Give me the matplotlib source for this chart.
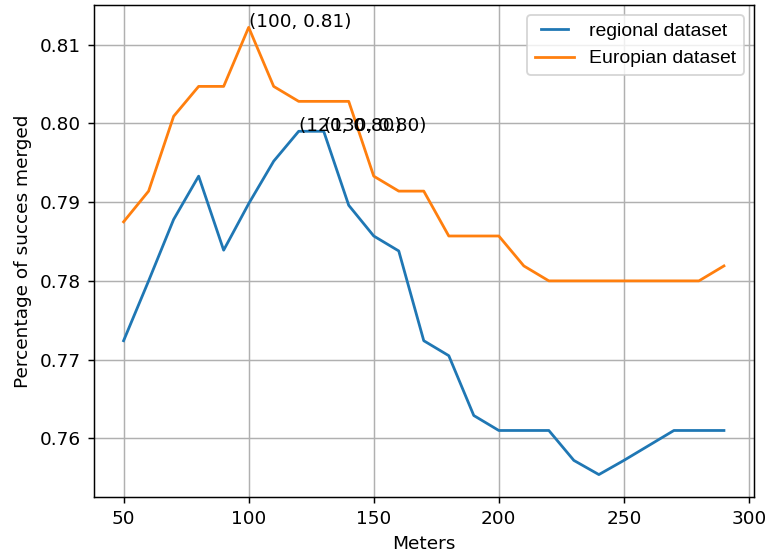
import matplotlib.pyplot as plt
from matplotlib.legend_handler import HandlerLine2D

# Distance thresholds (m)
meters = list(range(50, 300, 10))

regional = [0.7724, 0.7800, 0.7878, 0.7933, 0.7839, 0.7898, 0.7952, 0.7990,
            0.7990, 0.7896, 0.7857, 0.7838, 0.7724, 0.7705, 0.7629, 0.7610,
            0.7610, 0.7610, 0.7572, 0.7554, 0.7572, 0.7591, 0.7610, 0.7610,
            0.7610]

european = [0.7875, 0.7914, 0.8009, 0.8047, 0.8047, 0.8122, 0.8047, 0.8028,
            0.8028, 0.8028, 0.7933, 0.7914, 0.7914, 0.7857, 0.7857, 0.7857,
            0.7819, 0.7800, 0.7800, 0.7800, 0.7800, 0.7800, 0.7800, 0.7800,
            0.7819]

annotated = [(120, 0.7990), (130, 0.7990), (100, 0.8122)]


class ShortLine(HandlerLine2D):
    """Legend handle drawn a bit shorter than the default"""
    def get_xdata(self, legend, xdescent, ydescent, width, height, fontsize):
        xdata, xdata_marker = super().get_xdata(legend, xdescent, ydescent, width, height, fontsize)
        pad = 0.15 * width
        return [xdata[0] + pad, xdata[-1] - pad], xdata_marker


if __name__ == "__main__":
    dpi = 133
    fig, ax = plt.subplots(figsize=(767 / dpi, 554 / dpi), dpi=dpi)
    fig.subplots_adjust(left=0.122, right=0.983, top=0.991, bottom=0.103)

    reg_line, = ax.plot(meters, regional, label="regional dataset")
    ax.plot(meters, european, label="Europian dataset")

    # Label the maxima
    for x, y in annotated:
        ax.annotate(f"({x}, {y:.2f})", xy=(x, y))

    ax.set_xlabel("Meters")
    ax.set_ylabel("Percentage of succes merged")
    ax.grid(True)
    ax.legend(loc="upper right", prop={"family": "Liberation Sans", "size": 10.5},
              handler_map={reg_line: ShortLine()})

    fig.savefig("out.png", dpi=dpi)
